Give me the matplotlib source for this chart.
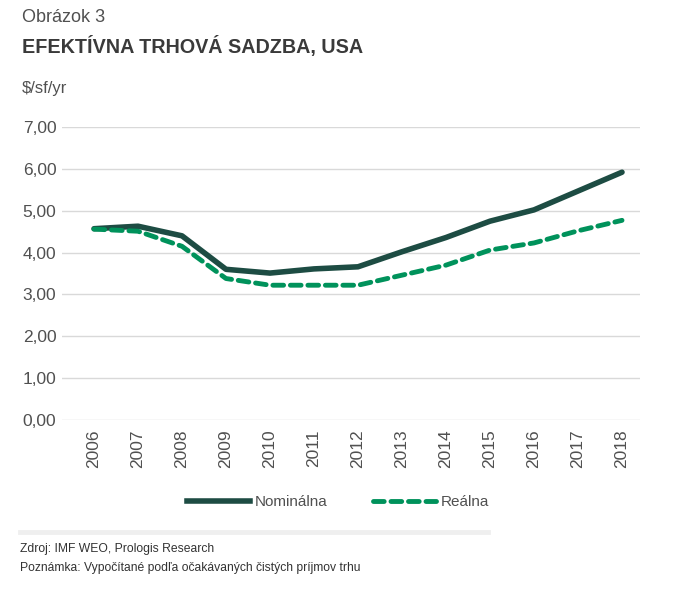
import matplotlib.pyplot as plt
from matplotlib.lines import Line2D

plt.rcParams['font.family'] = ['Liberation Sans', 'DejaVu Sans']

# Data
years = [2006, 2007, 2008, 2009, 2010, 2011, 2012, 2013, 2014, 2015, 2016, 2017, 2018]
nominal = [4.57, 4.63, 4.40, 3.60, 3.51, 3.61, 3.66, 4.02, 4.36, 4.75, 5.02, 5.47, 5.92]
real = [4.56, 4.51, 4.15, 3.38, 3.22, 3.22, 3.22, 3.46, 3.70, 4.06, 4.23, 4.52, 4.77]
yticks = [0, 1, 2, 3, 4, 5, 6, 7]

c_nom = '#1d4c43'
c_real = '#00925b'
c_text = '#505050'

fig = plt.figure(figsize=(6.88, 5.95), dpi=100)
fig.patch.set_facecolor('white')
ax = fig.add_axes([62/688, 1-420/595, 578/688, 293/595])

ax.plot(years, nominal, '-', c=c_nom, lw=4, solid_capstyle='round', zorder=3)
ax.plot(years, real, '--', c=c_real, lw=3.5, dashes=(2.2, 1.4), dash_capstyle='round', zorder=3)

ax.set_xlim(2006 - 32/44, 2018 + 18/44)
ax.set_ylim(0, 7)
ax.set_yticks(yticks)
ax.set_yticklabels([('%.2f' % v).replace('.', ',') for v in yticks], fontsize=12.5, color=c_text)
ax.set_xticks(years)
ax.set_xticklabels([str(y) for y in years], rotation=90, fontsize=12.5, color=c_text)
ax.grid(axis='y', color='#d9d9d9', lw=1)
ax.set_axisbelow(True)
for s in ax.spines.values():
    s.set_visible(False)
ax.tick_params(length=0, pad=7)
ax.tick_params(axis='y', pad=4)

fig.text(22/688, 1-18/595, 'Obrázok 3', fontsize=13, color=c_text, va='center')
fig.text(22/688, 1-46/595, 'EFEKTÍVNA TRHOVÁ SADZBA, USA', fontsize=14.2, fontweight='bold',
         color='#3a3a3a', va='center')
fig.text(22/688, 1-88/595, '$/sf/yr', fontsize=12, color=c_text, va='center')

handles = [Line2D([], [], c=c_nom, lw=4),
           Line2D([], [], c=c_real, lw=3.5, ls='--', dashes=(2.2, 1.4), dash_capstyle='round')]
fig.legend(handles, ['Nominálna', 'Reálna'], loc='center', bbox_to_anchor=(338/688, 1-502/595),
           ncol=2, frameon=False, handlelength=4.1, columnspacing=3.0, handletextpad=0.3,
           prop={'size': 11}, labelcolor=c_text)

fig.add_artist(Line2D([20/688, 488/688], [1-532/595, 1-532/595], color='#efefef', lw=3.5))
fig.text(20/688, 1-549/595, 'Zdroj: IMF WEO, Prologis Research', fontsize=8.7, color='#333333', va='center')
fig.text(20/688, 1-568/595, 'Poznámka: Vypočítané podľa očakávaných čistých príjmov trhu', fontsize=8.7,
         color='#333333', va='center')

plt.savefig('out.png', dpi=100)
